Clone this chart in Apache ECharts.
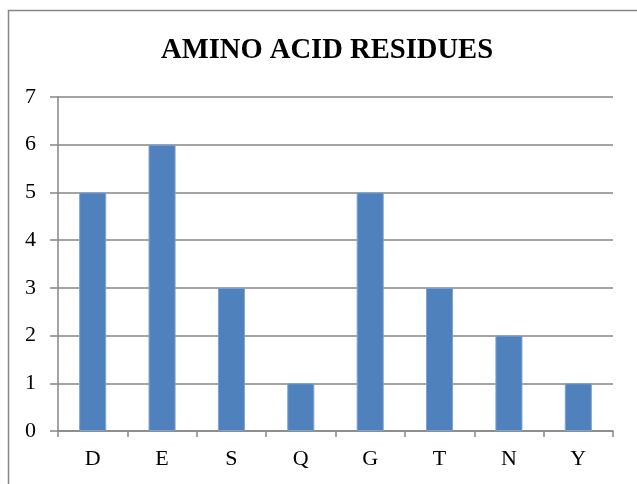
<!DOCTYPE html>
<html>
<head>
<meta charset="utf-8">
<script src="https://cdn.jsdelivr.net/npm/echarts@6/dist/echarts.min.js"></script>
<style>
  html, body { margin: 0; padding: 0; background: #fff; }
  #chart { width: 637px; height: 484px; }
</style>
</head>
<body>
<div id="chart"></div>
<script>
// Residue counts per amino acid
const residues = ['D', 'E', 'S', 'Q', 'G', 'T', 'N', 'Y'];
const counts = [5, 6, 3, 1, 5, 3, 2, 1];
const yTicks = { min: 0, max: 7, interval: 1 };

const axisGray = '#868686';
const serif = '"Liberation Serif", "Times New Roman", serif';

const chart = echarts.init(document.getElementById('chart'), null, { renderer: 'canvas' });
chart.setOption({
  animation: false,
  backgroundColor: '#fff',
  graphic: [{
    // outer chart frame (continues past the right and bottom edges)
    type: 'rect',
    shape: { x: 8.5, y: 10.5, width: 700, height: 600 },
    style: { fill: 'none', stroke: axisGray, lineWidth: 1.5 },
    silent: true
  }],
  title: {
    text: 'AMINO ACID RESIDUES',
    left: 156,
    top: 31,
    textStyle: { fontFamily: serif, fontWeight: 'bold', fontSize: 28.6, color: '#000' }
  },
  grid: { left: 58, right: 24, top: 97, bottom: 53 },
  xAxis: {
    type: 'category',
    data: residues,
    axisLine: { lineStyle: { color: axisGray, width: 1.5 } },
    axisTick: { show: true, length: 6, lineStyle: { color: axisGray, width: 1.5 } },
    axisLabel: { fontFamily: serif, fontSize: 22, color: '#000', margin: 17 }
  },
  yAxis: {
    type: 'value',
    min: yTicks.min,
    max: yTicks.max,
    interval: yTicks.interval,
    axisLine: { show: true, lineStyle: { color: axisGray, width: 1.5 } },
    axisTick: { show: true, length: 8, lineStyle: { color: axisGray, width: 1.5 } },
    splitLine: { lineStyle: { color: axisGray, width: 1.5 } },
    axisLabel: { fontFamily: serif, fontSize: 22, color: '#000', margin: 22 }
  },
  series: [{
    type: 'bar',
    data: counts,
    barWidth: '39%',
    itemStyle: { color: '#4F81BD', borderColor: '#7FA3D1', borderWidth: 1 }
  }]
});
</script>
</body>
</html>
